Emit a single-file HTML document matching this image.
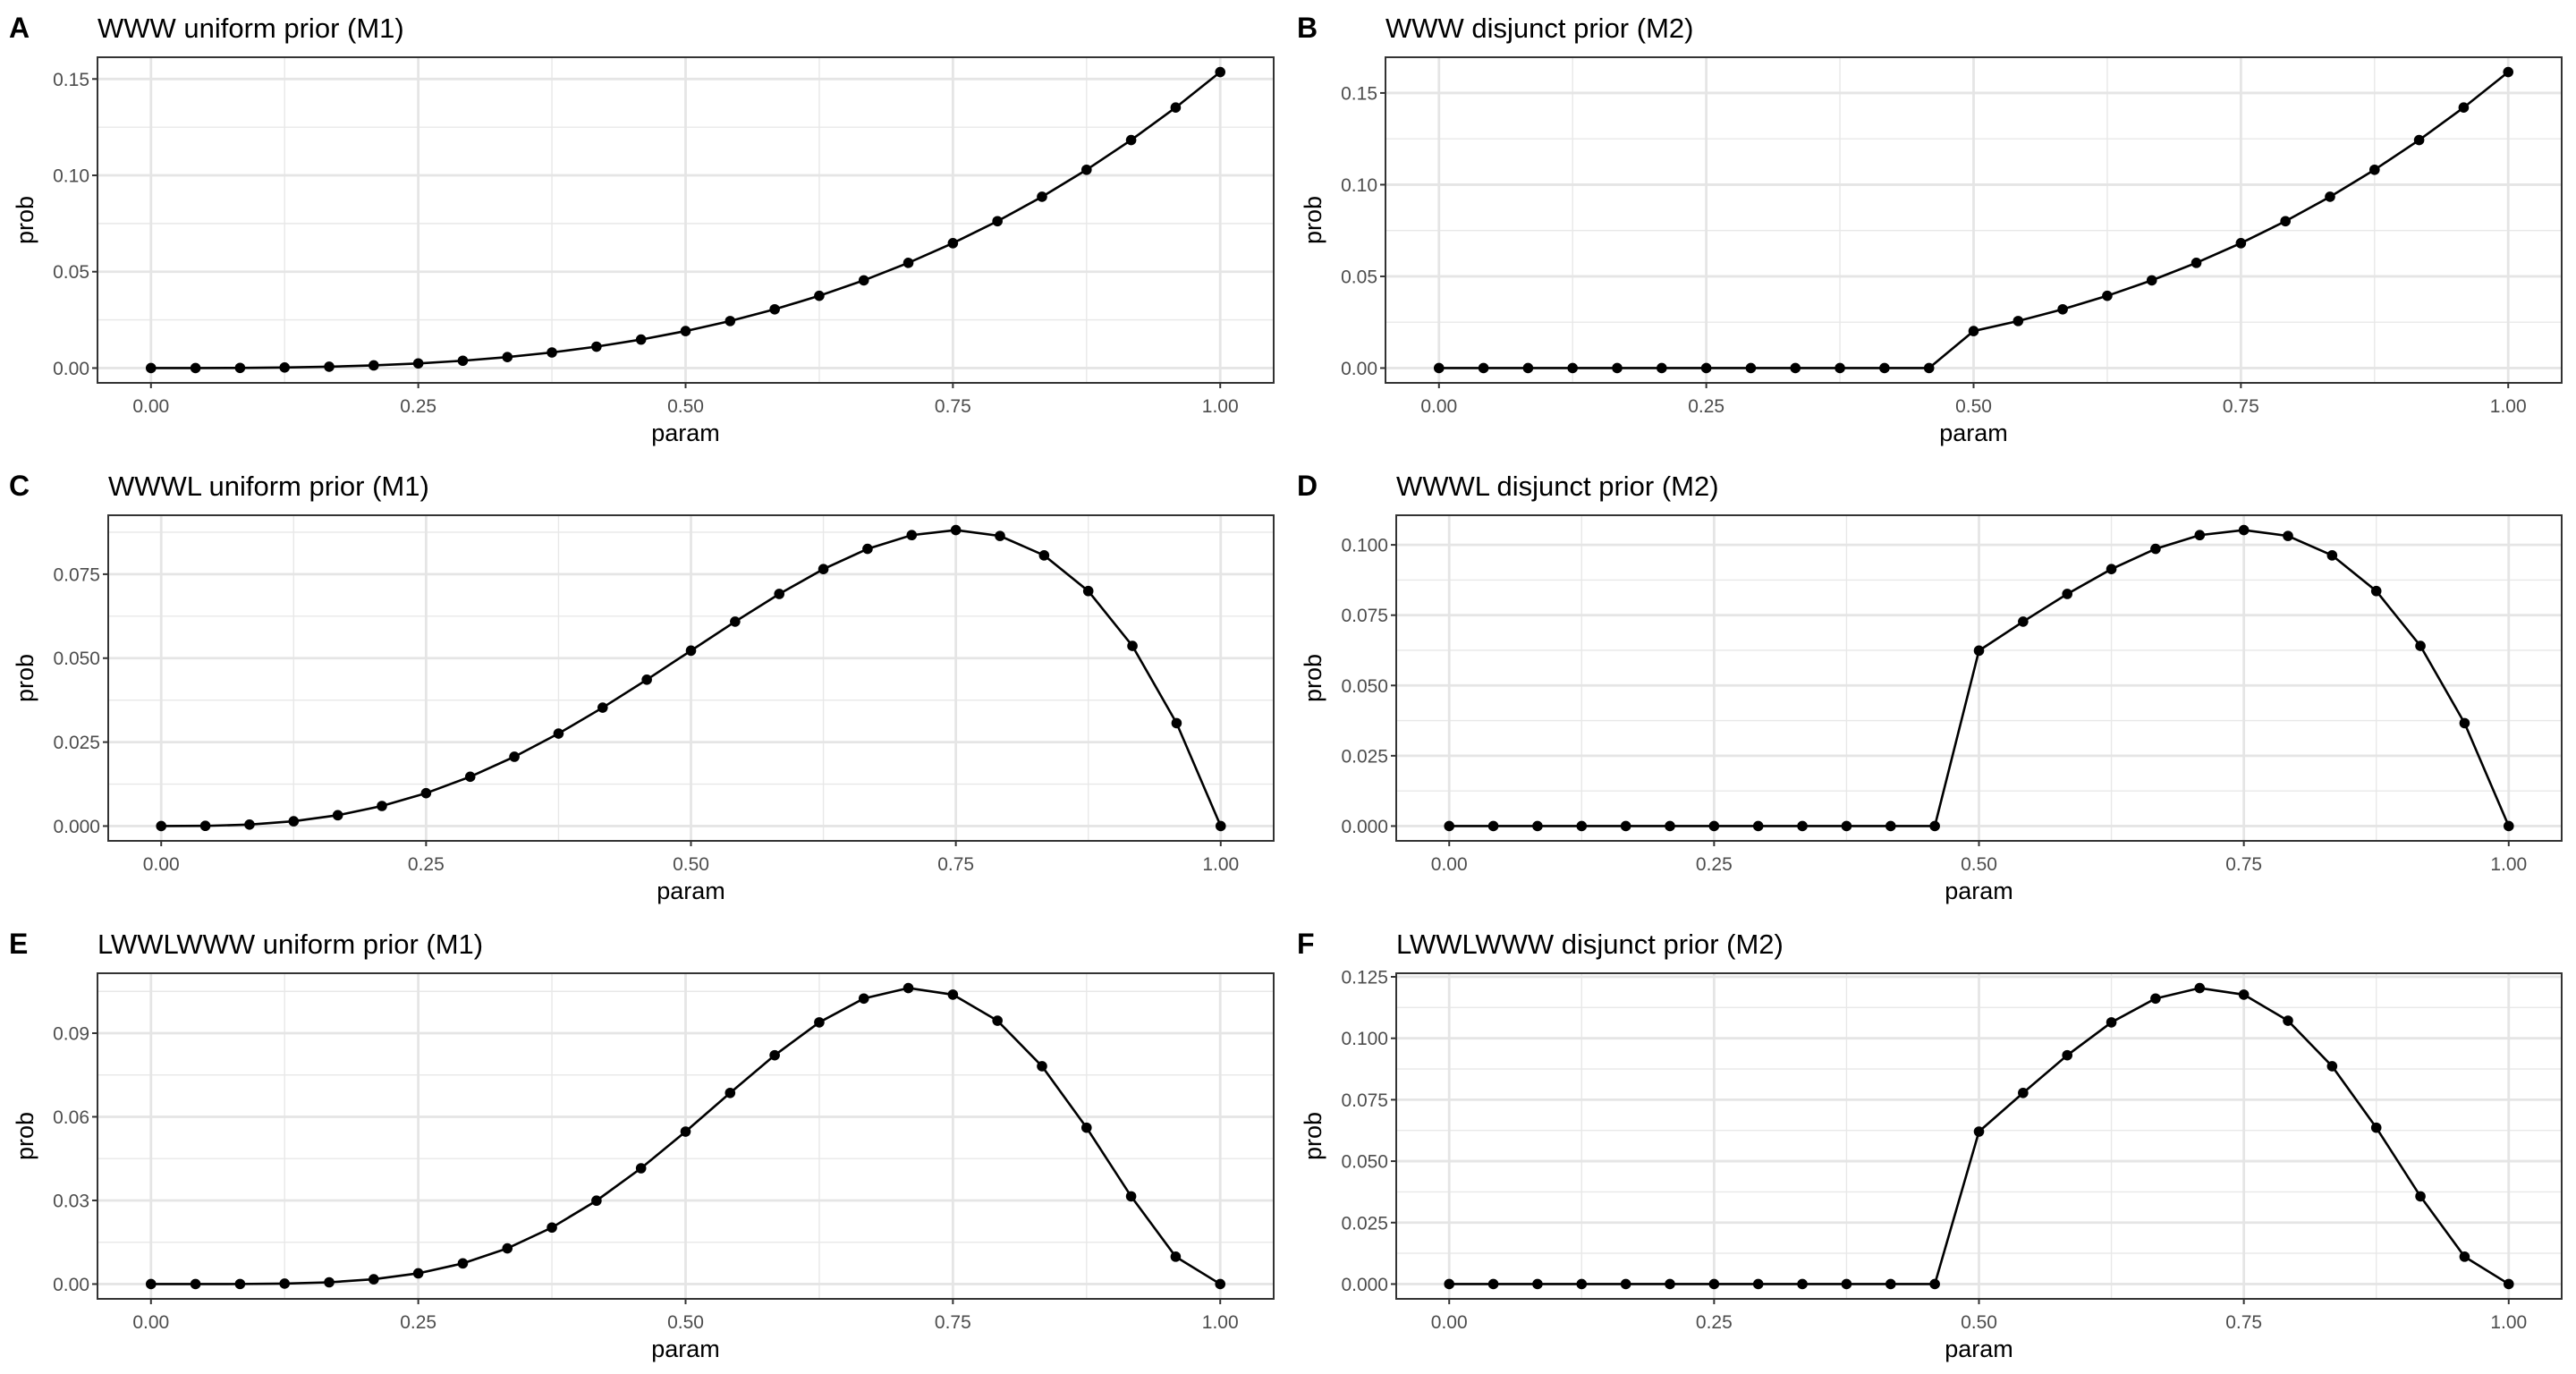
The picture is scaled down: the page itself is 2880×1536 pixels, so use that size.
<!DOCTYPE html>
<html><head><meta charset="utf-8"><style>html,body{margin:0;padding:0;background:#fff}svg{display:block}</style></head>
<body>
<svg id="s" width="2880" height="1536" xmlns="http://www.w3.org/2000/svg" font-family="Liberation Sans, Arial, sans-serif"></svg>
<script>
const s=document.getElementById('s');let out='';
const grid=[];for(let i=0;i<25;i++)grid.push(i/24);
function norm(f,dis){let v=grid.map(p=>(dis&&p<0.5)?0:f(p));let t=v.reduce((a,b)=>a+b,0);return v.map(x=>x/t);}
const panels=[
 {c:0,r:0,L:'A',t:'WWW uniform prior (M1)',f:p=>p**3,d:false,ticks:[0,0.05,0.10,0.15],dec:2,left:109},
 {c:1,r:0,L:'B',t:'WWW disjunct prior (M2)',f:p=>p**3,d:true,ticks:[0,0.05,0.10,0.15],dec:2,left:109},
 {c:0,r:1,L:'C',t:'WWWL uniform prior (M1)',f:p=>p**3*(1-p),d:false,ticks:[0,0.025,0.05,0.075],dec:3,left:121},
 {c:1,r:1,L:'D',t:'WWWL disjunct prior (M2)',f:p=>p**3*(1-p),d:true,ticks:[0,0.025,0.05,0.075,0.1],dec:3,left:121},
 {c:0,r:2,L:'E',t:'LWWLWWW uniform prior (M1)',f:p=>p**5*(1-p)**2,d:false,ticks:[0,0.03,0.06,0.09],dec:2,left:109},
 {c:1,r:2,L:'F',t:'LWWLWWW disjunct prior (M2)',f:p=>p**5*(1-p)**2,d:true,ticks:[0,0.025,0.05,0.075,0.1,0.125],dec:3,left:121},
];
for(const P of panels){
 const ox=P.c*1440, oy=P.r*512;
 const L=ox+P.left, R=ox+1424, T=oy+64, B=oy+428;
 const v=norm(P.f,P.d); const mx=Math.max(...v);
 const W=R-L,H=B-T;
 const X=p=>L+W*(0.05+p)/1.1;
 const Y=y=>B-H*(0.05+y/mx)/1.1;
 const xt=[0,0.25,0.5,0.75,1];
 for(let i=0;i<4;i++){const x=X(xt[i]+0.125);out+=`<line x1="${x}" x2="${x}" y1="${T}" y2="${B}" stroke="#e8e8e8" stroke-width="1.4"/>`;}
 const st=P.ticks[1]-P.ticks[0];
 for(let i=0;i<P.ticks.length+1;i++){const yy=P.ticks[0]+st*(i+0.5);const y=Y(yy);if(y>T&&y<B)out+=`<line x1="${L}" x2="${R}" y1="${y}" y2="${y}" stroke="#e8e8e8" stroke-width="1.4"/>`;}
 for(const t of xt){const x=X(t);out+=`<line x1="${x}" x2="${x}" y1="${T}" y2="${B}" stroke="#e5e5e5" stroke-width="2.8"/>`;
  out+=`<line x1="${x}" x2="${x}" y1="${B}" y2="${B+6}" stroke="#333" stroke-width="2"/>`;
  out+=`<text x="${x}" y="${B+33}" font-size="21" fill="#4d4d4d" text-anchor="middle">${t.toFixed(2)}</text>`;}
 for(const t of P.ticks){const y=Y(t);out+=`<line x1="${L}" x2="${R}" y1="${y}" y2="${y}" stroke="#e5e5e5" stroke-width="2.8"/>`;
  out+=`<line x1="${L-6}" x2="${L}" y1="${y}" y2="${y}" stroke="#333" stroke-width="2"/>`;
  out+=`<text x="${L-9}" y="${y+7.5}" font-size="21" fill="#4d4d4d" text-anchor="end">${t.toFixed(P.dec)}</text>`;}
 out+=`<rect x="${L}" y="${T}" width="${W}" height="${H}" fill="none" stroke="#333" stroke-width="2"/>`;
 out+=`<polyline fill="none" stroke="#000" stroke-width="2.6" points="${v.map((y,i)=>X(grid[i])+','+Y(y)).join(' ')}"/>`;
 v.forEach((y,i)=>{out+=`<circle cx="${X(grid[i])}" cy="${Y(y)}" r="5.8" fill="#000"/>`;});
 out+=`<text x="${(X(0)+X(1))/2}" y="${oy+493}" font-size="27" text-anchor="middle">param</text>`;
 out+=`<text transform="translate(${ox+37},${(T+B)/2}) rotate(-90)" font-size="27" text-anchor="middle">prob</text>`;
 out+=`<text x="${ox+10}" y="${oy+42}" font-size="32" font-weight="bold">${P.L}</text>`;
 out+=`<text x="${L}" y="${oy+42}" font-size="31">${P.t}</text>`;
}
s.innerHTML=out;
</script>
</body></html>
